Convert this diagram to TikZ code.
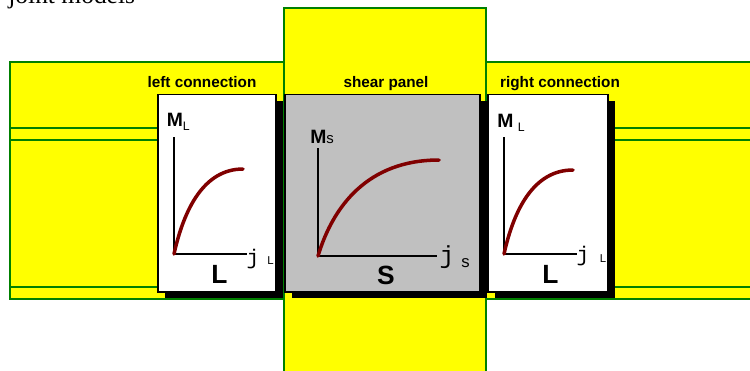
\documentclass[tikz,border=0pt]{standalone}
\usepackage{fontspec}
\setmainfont{Liberation Serif}
\setsansfont{Liberation Sans}
\setmonofont{Liberation Mono}
\usepackage{tikz}
\usetikzlibrary{shadows}
\definecolor{steelyellow}{HTML}{FFFF00}
\definecolor{edgegreen}{HTML}{008000}
\definecolor{panelgray}{HTML}{C0C0C0}
\definecolor{curvered}{HTML}{800000}
\tikzstyle{member} = [fill=steelyellow, draw=edgegreen, line width=0.8pt]
\tikzstyle{flange} = [draw=edgegreen, line width=0.8pt]
\tikzstyle{conn} = [rectangle, minimum width=2.36cm, minimum height=3.96cm, draw=black, line width=0.6pt, fill=white, drop shadow={shadow xshift=0.14cm, shadow yshift=-0.13cm, fill=black, opacity=1}]
\tikzstyle{shear} = [conn, fill=panelgray, minimum width=3.9cm]
\tikzstyle{axis} = [draw=black, line width=0.8pt]
\tikzstyle{curve} = [draw=curvered, line width=2pt, line cap=round]
\tikzstyle{partlab} = [font=\sffamily\bfseries\fontsize{8.7}{10}\selectfont, inner sep=0pt]
\tikzstyle{mlab} = [font=\sffamily\bfseries\fontsize{11}{13}\selectfont, inner sep=0pt, anchor=base west]
\tikzstyle{jlab} = [font=\ttfamily\fontsize{12}{14}\selectfont, inner sep=0pt]
\tikzstyle{sublab} = [font=\sffamily\fontsize{6.5}{7}\selectfont, inner sep=0pt]
\tikzstyle{biglab} = [font=\sffamily\bfseries\fontsize{15}{18}\selectfont, inner sep=0pt]

\begin{document}
\begin{tikzpicture}[x=0.02cm, y=-0.02cm]
  \useasboundingbox (0,0) rectangle (750,370);
  % heading, cut off by the page
  \node[font=\fontsize{14.5}{17}\selectfont, anchor=base west, inner sep=0pt] (head) at (8,3.5) {joint models};
  % beam and column
  \draw[member] (10,62) rectangle (770,299);
  \draw[flange] (10,128) -- (770,128);
  \draw[flange] (10,140) -- (770,140);
  \draw[flange] (10,287) -- (770,287);
  \draw[member] (284,8) rectangle (486,380);
  % joint components
  \node[conn] (lconn) at (217,193) {};
  \node[shear] (panel) at (382.5,193) {};
  \node[conn, minimum width=2.4cm] (rconn) at (548,193) {};
  \node[partlab] (lcap) at (202,82) {left connection};
  \node[partlab] (pcap) at (386,84) {shear panel};
  \node[partlab] (rcap) at (560,84) {right connection};
  % left connection curve
  \coordinate (ltop) at (174,137);
  \coordinate (lo) at (174,254);
  \coordinate (lend) at (247,254);
  \draw[axis] (ltop) -- (lo) -- (lend);
  \draw[curve] (lo) .. controls +(10,-45) and +(-39,0) .. ++(69,-85);
  \node[mlab] (lm) at (166.5,126.5) {M\raisebox{-2.5pt}{\fontsize{7}{8}\mdseries L}};
  \node[jlab] (lj) at (253,259) {j};
  \node[sublab] (ljs) at (270.5,261) {L};
  \node[biglab] (lbig) at (219.5,274.5) {L};
  % shear panel curve
  \coordinate (ptop) at (318,148);
  \coordinate (po) at (318,256);
  \coordinate (pend) at (437,256);
  \draw[axis] (ptop) -- (po) -- (pend);
  \draw[curve] (po) .. controls +(15,-50) and +(-71,0) .. ++(121,-96);
  \node[mlab] (pm) at (310,143.5) {M{\fontsize{8.5}{9}\mdseries s}};
  \node[jlab, font=\ttfamily\fontsize{14}{16}\selectfont] (pj) at (447,257) {j};
  \node[sublab, font=\sffamily\fontsize{9.5}{11}\selectfont] (pjs) at (465.5,263) {s};
  \node[biglab] (pbig) at (386,275) {S};
  % right connection curve
  \coordinate (rtop) at (504,137);
  \coordinate (ro) at (504,254);
  \coordinate (rend) at (577,254);
  \draw[axis] (rtop) -- (ro) -- (rend);
  \draw[curve] (ro) .. controls +(10,-45) and +(-39,0) .. ++(69,-84);
  \node[mlab] (rm) at (497,127.5) {M\hspace{2.5pt}\raisebox{-2.5pt}{\fontsize{7}{8}\mdseries L}};
  \node[jlab] (rj) at (583,256) {j};
  \node[sublab] (rjs) at (603,259) {L};
  \node[biglab] (rbig) at (550.5,274) {L};
\end{tikzpicture}
\end{document}
